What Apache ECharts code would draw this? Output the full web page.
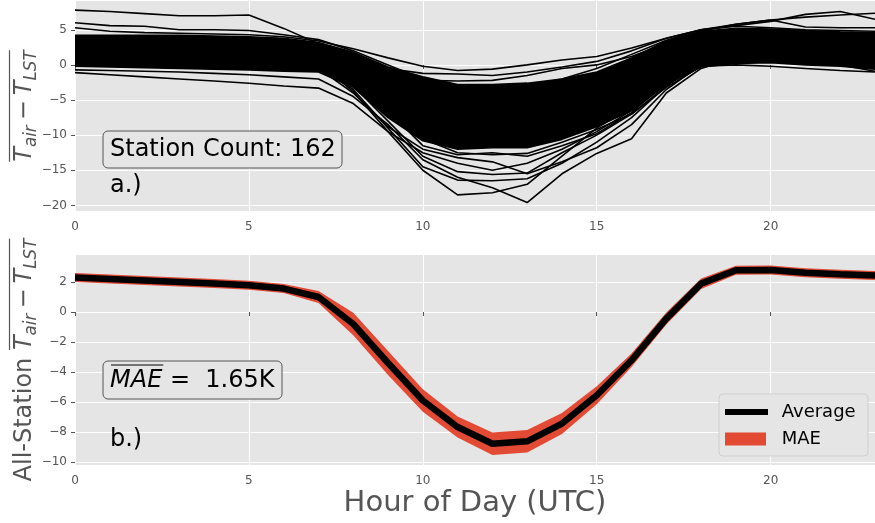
<!DOCTYPE html>
<html>
<head>
<meta charset="utf-8">
<script src="https://cdn.jsdelivr.net/npm/echarts@6/dist/echarts.min.js"></script>
<style>
  html, body { margin: 0; padding: 0; background: #fff; }
  #chart { width: 875px; height: 523px; }
</style>
</head>
<body>
<div id="chart"></div>
<script>
var hours = ['0', '1', '2', '3', '4', '5', '6', '7', '8', '9', '10', '11',
  '12', '13', '14', '15', '16', '17', '18', '19', '20', '21', '22', '23'];

// panel a: dense middle of the 162 station curves (upper / lower edge of the black mass)
var coreUpper = [4.2, 4.2, 4.2, 4.2, 4.1, 4.0, 3.8, 3.2, 1.8, -0.3, -1.7, -2.8, -2.8, -2.6, -2.0, -1.0, 1.0, 3.4, 4.8, 5.2, 5.1, 4.9, 4.7, 4.6];
var coreLower = [-0.2, -0.3, -0.4, -0.5, -0.6, -0.7, -0.9, -1.0, -3.2, -7.5, -10.8, -12.0, -11.8, -11.8, -10.6, -8.8, -6.5, -2.8, -0.3, 0.2, 0.3, 0.0, -0.2, -0.6];

// panel a: stations that stand out of the mass
var stationLines = [
  [7.8, 7.6, 7.3, 7.0, 7.0, 7.1, 5.2, 3.0, 1.5, -1.0, -3.0, -4.0, -4.5, -4.0, -3.0, -1.5, 0.5, 3.0, 4.5, 5.0, 5.0, 4.8, 4.6, 4.5],
  [6.0, 5.6, 5.5, 5.0, 5.0, 4.9, 4.3, 3.6, 2.0, 0.0, -2.0, -3.0, -3.5, -3.0, -2.0, -0.5, 1.5, 3.5, 5.0, 5.5, 5.3, 5.0, 4.9, 4.8],
  [5.3, 4.8, 4.6, 4.5, 4.4, 4.3, 4.0, 3.4, 2.3, 1.0, -0.2, -0.8, -0.6, 0.0, 0.7, 1.2, 2.4, 3.8, 5.0, 5.6, 6.2, 7.2, 7.6, 6.5],
  [3.5, 3.4, 3.3, 3.2, 3.1, 3.0, 2.8, 2.5, 1.0, -0.5, -1.2, -1.3, -1.5, -1.0, -0.3, 0.5, 2.0, 3.8, 5.0, 5.8, 6.4, 6.8, 7.1, 7.35],
  [3.0, 2.9, 2.8, 2.7, 2.6, 2.5, 2.3, 2.0, 0.5, -1.5, -2.2, -2.3, -2.2, -1.5, -0.5, 0.0, 1.2, 3.0, 4.8, 5.8, 6.4, 5.4, 5.3, 5.3],
  [-1.1, -1.4, -1.7, -2.0, -2.3, -2.6, -3.0, -3.3, -5.5, -9.5, -15.0, -18.5, -18.2, -17.0, -13.0, -9.0, -6.0, -2.5, 0.5, 1.5, 1.0, 0.5, 0.0, -0.5],
  [-0.7, -0.8, -0.9, -1.0, -1.2, -1.4, -1.7, -2.0, -4.5, -8.5, -13.5, -16.0, -17.5, -19.6, -15.5, -12.6, -10.5, -4.0, -0.5, 1.0, 0.8, 0.5, 0.0, -0.9],
  [1.0, 1.0, 0.8, 0.7, 0.6, 0.5, 0.3, 0.0, -3.5, -9.0, -14.5, -16.4, -16.5, -16.2, -14.0, -11.0, -7.5, -3.0, 0.5, 1.5, 1.5, 1.0, 1.0, 0.8],
  [2.0, 2.0, 1.8, 1.7, 1.5, 1.3, 1.0, 0.5, -3.0, -8.0, -13.0, -15.2, -15.6, -15.4, -12.5, -10.0, -7.0, -3.0, 0.5, 2.0, 2.0, 1.5, 1.5, 1.2],
  [1.5, 1.5, 1.4, 1.3, 1.2, 1.0, 0.8, 0.3, -3.8, -9.5, -12.5, -14.0, -15.0, -14.0, -12.0, -9.5, -6.5, -2.0, 1.0, 2.0, 2.0, 1.8, 1.5, 1.3],
  [0.5, 0.5, 0.4, 0.3, 0.2, 0.0, -0.2, -0.5, -4.0, -8.8, -12.0, -13.2, -13.8, -15.5, -13.8, -11.8, -8.5, -3.5, 0.0, 1.0, 1.2, 1.0, 0.8, 0.5],
  [3.0, 3.0, 2.8, 2.7, 2.6, 2.4, 2.2, 1.5, -1.5, -6.5, -11.5, -12.8, -12.5, -13.0, -11.5, -9.8, -6.8, -2.5, 1.5, 2.5, 2.5, 2.3, 2.0, 1.8],
  [0.2, 0.1, 0.0, -0.1, -0.2, -0.3, -0.5, -0.8, -2.8, -7.0, -10.5, -12.5, -12.8, -12.6, -11.0, -9.2, -7.0, -3.2, -0.2, 0.0, -0.2, -0.5, -0.8, -1.0]
];

// panel b
var avgLine = [2.3, 2.2, 2.1, 2.0, 1.9, 1.78, 1.56, 1.0, -0.8, -3.4, -5.9, -7.67, -8.78, -8.62, -7.44, -5.55, -3.22, -0.44, 1.89, 2.78, 2.8, 2.62, 2.51, 2.44];
var maeHalf = [0.3, 0.3, 0.3, 0.3, 0.3, 0.3, 0.3, 0.4, 0.75, 0.8, 0.75, 0.7, 0.75, 0.75, 0.7, 0.6, 0.45, 0.4, 0.35, 0.3, 0.3, 0.3, 0.3, 0.3];

var yTicksTop = [-20, -15, -10, -5, 0, 5];
var yTicksBottom = [-10, -8, -6, -4, -2, 0, 2];

var FONT = 'DejaVu Sans';
var GREY = '#555555';
var RED = '#E24A33';

var measureCtx = document.createElement('canvas').getContext('2d');
function textWidth(str, size, italic) {
  measureCtx.font = (italic ? 'italic ' : '') + size + 'px "' + FONT + '"';
  return measureCtx.measureText(str).width;
}

// rotated axis title with an overline over the math part
function mathLabel(cx, cy, pieces) {
  var total = 0;
  pieces.forEach(function (p) { p.w = textWidth(p.text, p.size, p.italic) + (p.pad || 0) * 2; total += p.w; });
  var pos = -total / 2;
  var children = [];
  var overStart = null, overEnd = null;
  pieces.forEach(function (p) {
    children.push({
      type: 'text', x: pos + (p.pad || 0), y: p.dy || 0,
      style: { text: p.text, fontSize: p.size, fontFamily: FONT, fontStyle: p.italic ? 'italic' : 'normal',
        fill: GREY, align: 'left', verticalAlign: 'middle' }
    });
    if (p.over) {
      if (overStart === null) overStart = pos;
      overEnd = pos + p.w;
    }
    pos += p.w;
  });
  children.push({
    type: 'line', shape: { x1: overStart, y1: -15.5, x2: overEnd, y2: -15.5 },
    style: { stroke: GREY, lineWidth: 1.2 }
  });
  return { type: 'group', x: cx, y: cy, rotation: Math.PI / 2, children: children };
}

function tairPieces() {
  return [
    { text: 'T', size: 24, italic: true, over: true },
    { text: 'air', size: 16.8, italic: true, dy: 7, over: true },
    { text: '\u2212', size: 24, pad: 5, over: true },
    { text: 'T', size: 24, italic: true, over: true },
    { text: 'LST', size: 16.8, italic: true, dy: 7, over: true }
  ];
}

var minusFmt = function (v) { return String(v).replace('-', '\u2212'); };

function xAxisFor(idx) {
  return {
    type: 'category', gridIndex: idx, data: hours, boundaryGap: false,
    axisLine: { show: false },
    axisTick: { show: true, interval: 4, length: 4, lineStyle: { color: GREY } },
    axisLabel: { interval: 4, color: GREY, fontSize: 12, fontFamily: FONT, margin: 10 },
    splitLine: { show: true, interval: 4, lineStyle: { color: '#ffffff', width: 1 } }
  };
}
function yAxisFor(idx, min, max, ticks) {
  return {
    type: 'value', gridIndex: idx, min: min, max: max,
    axisLine: { show: false },
    axisTick: { show: true, length: 4, customValues: ticks, lineStyle: { color: GREY } },
    axisLabel: { customValues: ticks, color: GREY, fontSize: 12, fontFamily: FONT, margin: 8, formatter: minusFmt },
    splitLine: { show: true, lineStyle: { color: '#ffffff', width: 1 } }
  };
}

var series = [];
series.push({
  type: 'line', xAxisIndex: 0, yAxisIndex: 0, data: coreLower, stack: 'core', stackStrategy: 'all',
  symbol: 'none', silent: true, lineStyle: { color: '#000', width: 1.6 }
});
series.push({
  type: 'line', xAxisIndex: 0, yAxisIndex: 0,
  data: coreUpper.map(function (v, i) { return +(v - coreLower[i]).toFixed(2); }),
  stack: 'core', stackStrategy: 'all', symbol: 'none', silent: true,
  lineStyle: { color: '#000', width: 1.6 }, areaStyle: { color: '#000', opacity: 1 }
});
stationLines.forEach(function (vals) {
  series.push({
    type: 'line', xAxisIndex: 0, yAxisIndex: 0, data: vals, symbol: 'none', silent: true,
    lineStyle: { color: '#000', width: 1.6 }
  });
});
series.push({
  name: 'maeBase', type: 'line', xAxisIndex: 1, yAxisIndex: 1,
  data: avgLine.map(function (v, i) { return +(v - maeHalf[i]).toFixed(2); }),
  stack: 'mae', stackStrategy: 'all', symbol: 'none', silent: true,
  lineStyle: { width: 0, color: RED }
});
series.push({
  name: 'MAE', type: 'line', xAxisIndex: 1, yAxisIndex: 1,
  data: maeHalf.map(function (v) { return +(2 * v).toFixed(2); }),
  stack: 'mae', stackStrategy: 'all', symbol: 'none', silent: true,
  itemStyle: { color: RED }, lineStyle: { width: 0, color: RED },
  areaStyle: { color: RED, opacity: 1 }
});
series.push({
  name: 'Average', type: 'line', xAxisIndex: 1, yAxisIndex: 1, data: avgLine,
  symbol: 'none', silent: true, z: 5,
  itemStyle: { color: '#000' }, lineStyle: { color: '#000', width: 6.5 }
});

var maeW = textWidth('MAE', 24, true);

var option = {
  animation: false,
  backgroundColor: '#ffffff',
  grid: [
    { left: 75, top: 1, width: 803, height: 210, show: true, backgroundColor: '#E5E5E5', borderWidth: 0 },
    { left: 75, top: 255, width: 803, height: 210, show: true, backgroundColor: '#E5E5E5', borderWidth: 0 }
  ],
  xAxis: [
    xAxisFor(0),
    Object.assign(xAxisFor(1), {
      name: 'Hour of Day (UTC)', nameLocation: 'middle', nameGap: 24,
      nameTextStyle: { color: GREY, fontSize: 29, fontFamily: FONT }
    })
  ],
  yAxis: [
    yAxisFor(0, -20.8, 9.1, yTicksTop),
    yAxisFor(1, -10.2, 3.8, yTicksBottom)
  ],
  legend: [
    {
      data: ['Average'], left: 725, top: 403, padding: 0, icon: 'rect', itemWidth: 43, itemHeight: 6,
      itemStyle: { borderWidth: 0 }, formatter: ' {name}',
      textStyle: { fontSize: 18, fontFamily: FONT, color: '#000', padding: [0, 0, 0, 3] }
    },
    {
      data: ['MAE'], left: 725, top: 430, padding: 0, icon: 'rect', itemWidth: 41, itemHeight: 13,
      itemStyle: { borderWidth: 0 }, formatter: ' {name}',
      textStyle: { fontSize: 18, fontFamily: FONT, color: '#000', padding: [0, 0, 0, 5] }
    }
  ],
  graphic: [
    mathLabel(25, 106, tairPieces()),
    mathLabel(25, 360, [{ text: 'All-Station ', size: 24 }].concat(tairPieces())),
    {
      type: 'rect', z: 3, shape: { x: 103, y: 131, width: 239, height: 37, r: 5 },
      style: { fill: '#E5E5E5', stroke: GREY, lineWidth: 1 }
    },
    {
      type: 'text', z: 4, x: 110, y: 150,
      style: { text: 'Station Count: 162', fontSize: 24, fontFamily: FONT, fill: '#000', verticalAlign: 'middle' }
    },
    {
      type: 'text', z: 4, x: 110, y: 186,
      style: { text: 'a.)', fontSize: 24, fontFamily: FONT, fill: '#000', verticalAlign: 'middle' }
    },
    {
      type: 'rect', z: 3, shape: { x: 103, y: 361, width: 179, height: 38, r: 5 },
      style: { fill: '#E5E5E5', stroke: GREY, lineWidth: 1 }
    },
    {
      type: 'text', z: 4, x: 110, y: 381,
      style: {
        text: '{i|MAE}{n| =  1.65K}', verticalAlign: 'middle',
        rich: {
          i: { fontSize: 24, fontFamily: FONT, fontStyle: 'italic', fill: '#000' },
          n: { fontSize: 24, fontFamily: FONT, fill: '#000' }
        }
      }
    },
    {
      type: 'line', z: 4, shape: { x1: 111, y1: 365, x2: 111 + maeW, y2: 365 },
      style: { stroke: '#000', lineWidth: 1.2 }
    },
    {
      type: 'text', z: 4, x: 110, y: 440,
      style: { text: 'b.)', fontSize: 24, fontFamily: FONT, fill: '#000', verticalAlign: 'middle' }
    },
    {
      type: 'rect', z: 3, shape: { x: 719, y: 394, width: 149, height: 62, r: 4 },
      style: { fill: '#E5E5E5', stroke: '#CFCFCF', lineWidth: 1 }
    }
  ],
  series: series
};

var chart = echarts.init(document.getElementById('chart'));
chart.setOption(option);
</script>
</body>
</html>
